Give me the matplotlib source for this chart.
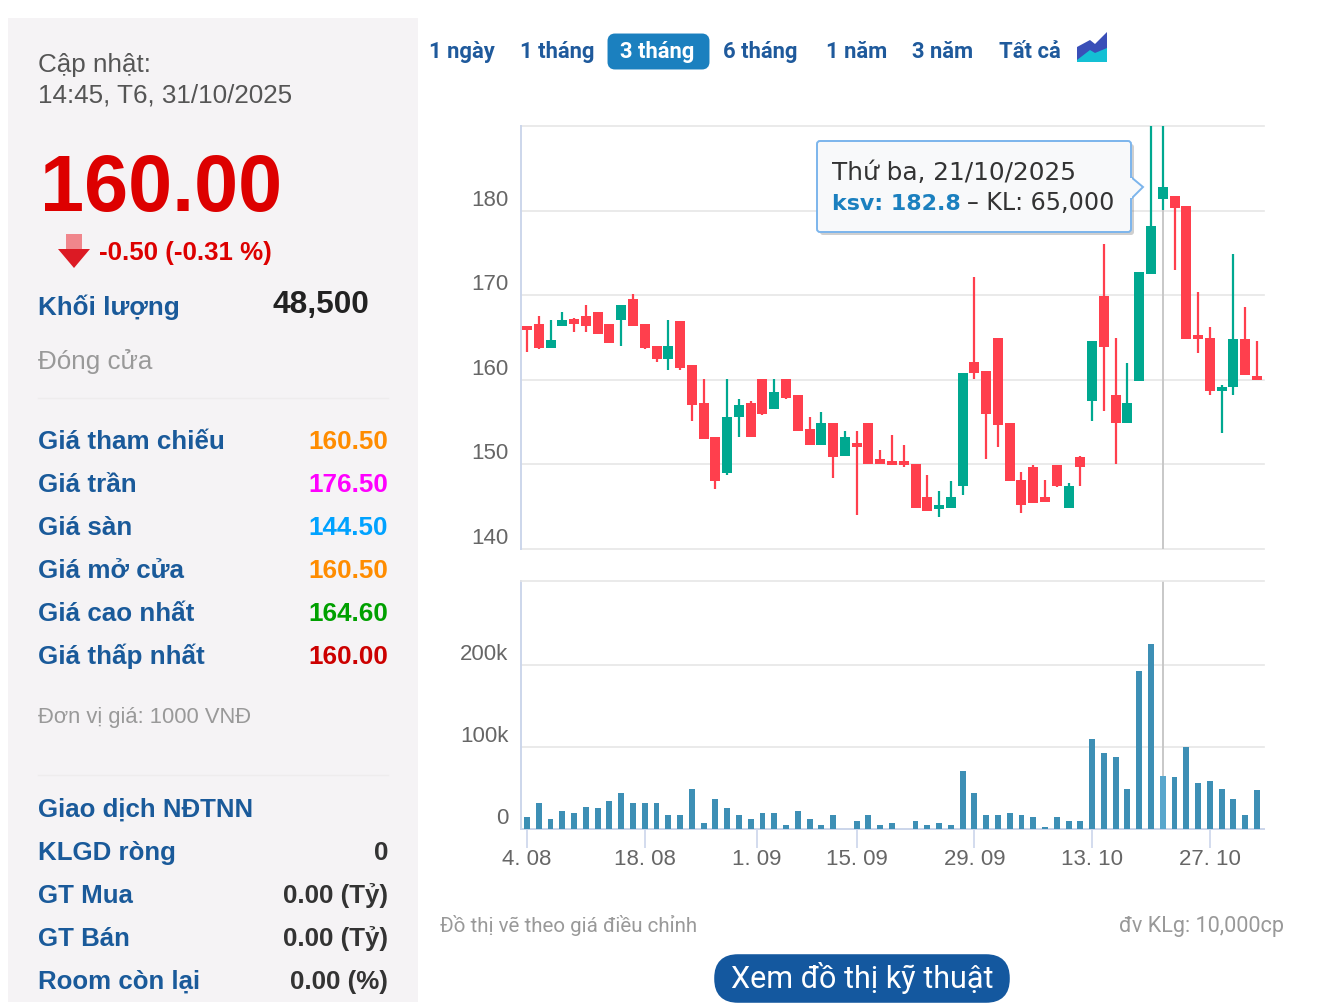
import numpy as np
import matplotlib
matplotlib.use('Agg')
import matplotlib.pyplot as plt
from matplotlib.patches import FancyBboxPatch, Polygon, Rectangle
from matplotlib.transforms import ScaledTranslation

#  daily candles (red = close below open)
p_open = [166.4, 166.65, 163.8, 166.4, 167.1, 167.6, 168.05, 166.65, 167.1, 169.5,
          166.65, 164.05, 162.4, 166.9, 161.7, 157.2, 153.2, 148.95, 155.55, 157.2,
          160.05, 156.5, 160.05, 158.15, 154.15, 152.25, 154.85, 151.05, 152.25, 154.85,
          150.35, 150.35, 150.1, 150.1, 146.1, 144.7, 144.9, 147.5, 162.15, 161.0,
          165.0, 154.85, 148.2, 149.65, 146.1, 149.9, 144.9, 150.85, 157.5, 169.95,
          158.2, 154.9, 159.85, 172.55, 181.4, 181.7, 180.55, 165.0, 165.0, 158.65,
          159.15, 164.8, 160.5]
p_high = [166.4, 167.6, 167.1, 168.05, 167.35, 168.8, 168.05, 166.65, 168.8, 170.2,
          166.65, 164.05, 167.1, 166.9, 161.7, 160.05, 153.2, 160.05, 157.7, 157.45,
          160.05, 160.05, 160.05, 158.15, 155.55, 156.25, 154.85, 153.9, 153.9, 154.85,
          151.75, 153.45, 152.25, 150.1, 148.7, 146.8, 148.0, 160.75, 172.1, 161.0,
          165.0, 154.85, 149.15, 149.9, 148.2, 149.9, 147.75, 151.05, 164.55, 176.0,
          165.0, 161.95, 172.8, 192.0, 192.0, 181.7, 180.55, 170.4, 166.2, 159.35,
          174.9, 168.55, 164.6]
p_low = [163.3, 163.6, 163.8, 166.4, 165.7, 165.7, 165.45, 164.3, 164.05, 166.4,
         163.6, 162.15, 161.2, 161.2, 155.1, 152.95, 147.05, 148.7, 153.2, 153.2,
         155.8, 156.5, 157.7, 153.9, 152.25, 152.25, 148.45, 151.05, 144.0, 150.1,
         150.1, 149.9, 149.65, 144.9, 144.45, 143.75, 144.9, 146.35, 160.05, 150.6,
         152.0, 148.0, 144.2, 145.4, 145.6, 147.3, 144.9, 147.5, 155.15, 156.3,
         150.0, 154.9, 159.85, 172.55, 180.1, 173.0, 164.8, 163.15, 158.2, 153.7,
         158.2, 160.55, 160.0]
p_close = [165.9, 163.8, 164.75, 167.1, 166.65, 166.4, 165.45, 164.3, 168.8, 166.4,
           163.8, 162.4, 164.05, 161.45, 157.0, 152.95, 148.0, 155.55, 157.0, 153.2,
           156.0, 158.6, 157.9, 153.9, 152.25, 154.85, 150.85, 153.2, 152.0, 150.1,
           150.1, 149.9, 149.9, 144.9, 144.45, 145.15, 146.1, 160.75, 160.75, 156.0,
           154.6, 148.0, 145.15, 145.4, 145.6, 147.5, 147.5, 149.65, 164.55, 163.85,
           154.9, 157.25, 172.8, 178.2, 182.8, 180.3, 164.8, 164.8, 158.65, 159.15,
           164.8, 160.55, 160.0]
volume = [15, 32, 12.6, 22.4, 20, 27, 25, 34.5, 44, 32,
          32, 32, 17.5, 17.5, 49, 7.7, 37, 25, 17.5, 12.6,
          20, 20, 5, 22.4, 12.6, 5, 17.5, 0, 10, 17.5,
          5, 7.7, 0, 10, 5, 7.7, 5, 71, 44, 17.5,
          17.5, 20, 17.5, 15, 3, 15, 10, 10, 110, 93,
          88, 49, 193, 225, 65, 64, 100, 56.5, 59, 49,
          37, 17.5, 47]

hover_idx = 54
price_ticks = [140, 150, 160, 170, 180, 190]
price_labels = ['140', '150', '160', '170', '180', '']
vol_ticks = [0, 100, 200]
vol_labels = ['0', '100k', '200k']
date_ticks = [0, 10, 19.55, 28, 38, 48, 58]
date_labels = ['4. 08', '18. 08', '1. 09', '15. 09', '29. 09', '13. 10', '27. 10']

#  the side panel
price_rows = ['Giá tham chiếu', 'Giá trần', 'Giá sàn', 'Giá mở cửa', 'Giá cao nhất', 'Giá thấp nhất']
price_vals = ['160.50', '176.50', '144.50', '160.50', '164.60', '160.00']
price_cols = ['#ff8c00', '#ff00ff', '#00a2ff', '#ff8c00', '#00a000', '#cc0000']
price_base = [449, 492, 535, 578, 621, 664]
foreign_rows = ['Giao dịch NĐTNN', 'KLGD ròng', 'GT Mua', 'GT Bán', 'Room còn lại']
foreign_vals = ['', '0', '0.00 (Tỷ)', '0.00 (Tỷ)', '0.00 (%)']
foreign_base = [817, 860, 903, 946, 989]
tab_names = ['1 ngày', '1 tháng', '3 tháng', '6 tháng', '1 năm', '3 năm', 'Tất cả']
tab_x = [429, 520, 620, 723, 826, 912, 999]

W, H = 1328, 1008
red = '#ff3f4d'
green = '#00a890'
blue = '#1a5a9a'
axis_col = '#ccd6eb'
grid_col = '#e6e6e6'
hover_col = '#c8c8c8'
label_col = '#666666'

plt.rcParams['font.family'] = ['Liberation Sans', 'DejaVu Sans']

fig = plt.figure(figsize=(W / 100, H / 100), dpi=100)


def px_axes(left, top, right, bottom):
    return fig.add_axes([left / W, 1 - bottom / H, (right - left) / W, (bottom - top) / H])


def style_axes(ax, ticks, labels):
    ax.set_xlim(-0.51, 62.6)
    ax.set_yticks(ticks)
    ax.set_yticklabels(labels, fontsize=16, color=label_col)
    ax.tick_params(axis='y', length=0, pad=9)
    ax.grid(axis='y', color=grid_col, linewidth=1.2, clip_on=False)
    ax.set_axisbelow(True)
    for side in ['top', 'right', 'bottom']:
        ax.spines[side].set_visible(False)
    ax.spines['left'].set_color(axis_col)
    ax.spines['left'].set_linewidth(1.4)
    #  labels sit on top of their grid line
    shift = ScaledTranslation(0, 13 / 100, fig.dpi_scale_trans)
    for lab in ax.get_yticklabels():
        lab.set_transform(lab.get_transform() + shift)
    ax.axvline(hover_idx, color=hover_col, linewidth=1.4, zorder=1.5)


#  price panel
ax1 = px_axes(521, 126, 1264, 549)
ax1.set_ylim(140, 190)
style_axes(ax1, price_ticks, price_labels)
ax1.set_xticks([])
x = np.arange(len(p_open))
o = np.array(p_open)
c = np.array(p_close)
cols = [red if c[i] <= o[i] else green for i in x]
ax1.vlines(x, p_low, p_high, colors=cols, linewidth=1.6, zorder=3)
ax1.bar(x, np.maximum(np.abs(o - c), 0.5), bottom=np.minimum(o, c), width=0.85,
        color=cols, linewidth=0, zorder=3)

#  volume panel
ax2 = px_axes(521, 581, 1264, 829)
ax2.set_ylim(0, 302.4)
style_axes(ax2, vol_ticks, vol_labels)
vol_cols = ['#3d8fb5'] * len(volume)
vol_cols[hover_idx] = '#58a6cc'
ax2.bar(x, volume, width=0.5, color=vol_cols, linewidth=0, zorder=3)
ax2.spines['top'].set_visible(True)
ax2.spines['top'].set_color(grid_col)
ax2.spines['top'].set_linewidth(1.2)
ax2.spines['bottom'].set_visible(True)
ax2.spines['bottom'].set_color(axis_col)
ax2.spines['bottom'].set_linewidth(1.4)
ax2.set_xticks(date_ticks)
ax2.set_xticklabels(date_labels, fontsize=16, color=label_col)
ax2.tick_params(axis='x', length=14, width=1.2, color=axis_col, pad=0.5)

#  everything that is not chart goes in an overlay using pixel coordinates
ui = fig.add_axes([0, 0, 1, 1], zorder=10)
ui.set_xlim(0, W)
ui.set_ylim(H, 0)
ui.axis('off')
ui.patch.set_alpha(0)


def txt(x0, y0, s, size, color, weight='normal', ha='left', family=None):
    kw = {}
    if family:
        kw['family'] = family
    return ui.text(x0, y0, s, fontsize=size, color=color, fontweight=weight, ha=ha,
                   va='baseline', **kw)


ui.add_patch(Rectangle((8, 18), 410, 984, facecolor='#f5f3f5', edgecolor='none'))
txt(38, 72, 'Cập nhật:', 18.7, '#555555')
txt(38, 102, '14:45, T6, 31/10/2025', 18.7, '#555555')
txt(40, 211, '160.00', 57, '#dd0000', 'bold')

#  down arrow next to the change
ui.add_patch(Rectangle((66, 234), 16, 16, facecolor='#f0868c', edgecolor='none'))
ui.add_patch(Polygon([(58, 249), (90, 249), (74, 268)], closed=True, facecolor='#dc1a24', edgecolor='none'))
txt(99, 260, '-0.50 (-0.31 %)', 18.6, '#dd0000', 'bold')

txt(38, 315, 'Khối lượng', 18.7, blue, 'bold')
txt(369, 313, '48,500', 22.8, '#222222', 'bold', ha='right')
txt(38, 369, 'Đóng cửa', 18.7, '#999999')
ui.plot([38, 388], [398, 398], color='#eeeced', linewidth=1)

for name, val, col, base in zip(price_rows, price_vals, price_cols, price_base):
    txt(38, base, name, 18.7, blue, 'bold')
    txt(388, base, val, 18.7, col, 'bold', ha='right')

txt(38, 723, 'Đơn vị giá: 1000 VNĐ', 15.8, '#999999')
ui.plot([38, 388], [775, 775], color='#eeeced', linewidth=1)

for name, val, base in zip(foreign_rows, foreign_vals, foreign_base):
    txt(38, base, name, 18.6, blue, 'bold')
    if val:
        txt(388, base, val, 18.6, '#333333', 'bold', ha='right')

#  range buttons
ui.add_patch(FancyBboxPatch((611, 37), 95, 29, boxstyle='round,pad=0,rounding_size=4', mutation_aspect=1,
                            facecolor='#1b80bf', edgecolor='#1b80bf', linewidth=5))
for name, tx in zip(tab_names, tab_x):
    txt(tx, 58, name, 15.8, 'white' if name == '3 tháng' else '#1f5a9c', 'bold', family=['Roboto', 'DejaVu Sans'])

#  small area chart icon
ui.add_patch(Rectangle((1077, 47), 30, 15, facecolor='#14c0d4', edgecolor='none'))
ui.add_patch(Polygon([(1077, 47), (1090, 40), (1095, 44), (1107, 32), (1107, 48), (1095, 53), (1090, 50), (1077, 60)],
                     closed=True, facecolor='#3a4fb8', edgecolor='none'))

#  tooltip over the hovered candle
ui.add_patch(FancyBboxPatch((820, 144), 314, 91, boxstyle='round,pad=0,rounding_size=3',
                            facecolor='#777777', edgecolor='none', alpha=0.35))
ui.add_patch(FancyBboxPatch((817, 141), 314, 91, boxstyle='round,pad=0,rounding_size=3',
                            facecolor='#f8f9fa', edgecolor='#7cb5ec', linewidth=1.4))
ui.add_patch(Polygon([(1131, 177), (1143, 187), (1131, 199)], closed=False, facecolor='#f8f9fa',
                     edgecolor='#7cb5ec', linewidth=1.4))
ui.add_patch(Rectangle((1129, 178), 3, 20, facecolor='#f8f9fa', edgecolor='none'))
dv = ['DejaVu Sans']
txt(832, 180, 'Thứ ba, 21/10/2025', 17.8, '#333333', family=dv)
txt(832, 210, 'ksv: 182.8', 15.9, '#1b80bf', 'bold', family=dv)
txt(967, 210, '– KL: 65,000', 17.1, '#333333', family=dv)

#  footer
txt(440, 932, 'Đồ thị vẽ theo giá điều chỉnh', 14.8, '#999999', family=['Roboto', 'DejaVu Sans'])
txt(1284, 932, 'đv KLg: 10,000cp', 15.6, '#999999', ha='right', family=['Roboto', 'DejaVu Sans'])
ui.add_patch(FancyBboxPatch((717, 957), 290, 43, boxstyle='round,pad=0,rounding_size=21',
                            facecolor='#14589f', edgecolor='#14589f', linewidth=4))
txt(862, 988, 'Xem đồ thị kỹ thuật', 22, 'white', ha='center', family=['Roboto', 'DejaVu Sans'])

fig.savefig('out.png', dpi=100)
